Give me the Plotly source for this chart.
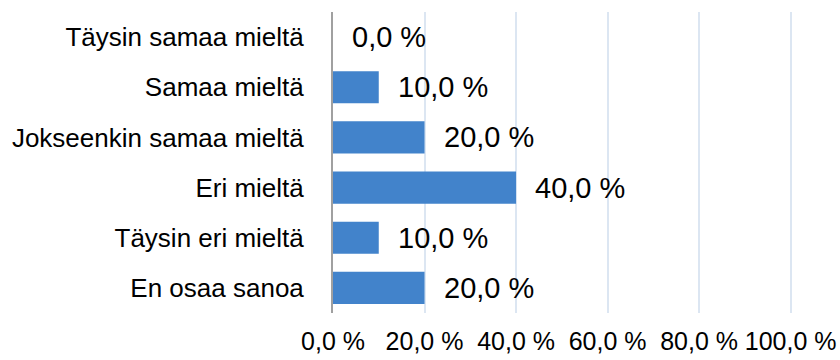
import plotly.graph_objects as go

categories = ["Täysin samaa mieltä", "Samaa mieltä", "Jokseenkin samaa mieltä",
              "Eri mieltä", "Täysin eri mieltä", "En osaa sanoa"]
values = [0.0, 10.0, 20.0, 40.0, 10.0, 20.0]
tick_vals = [0, 20, 40, 60, 80, 100]
tick_text = ["0,0 %", "20,0 %", "40,0 %", "60,0 %", "80,0 %", "100,0 %"]

font_family = "Liberation Sans, Arial, sans-serif"

fig = go.Figure()
fig.add_trace(go.Bar(
    y=categories, x=values, orientation="h",
    marker=dict(color="#4283cb", line=dict(width=0)),
    hoverinfo="skip",
))

for c, v in zip(categories, values):
    fig.add_annotation(
        x=v, y=c, xref="x", yref="y",
        text=f"{v:.1f}".replace(".", ",") + " %",
        showarrow=False, xanchor="left", xshift=17,
        font=dict(size=29, color="#000000", family=font_family),
    )

fig.update_layout(
    width=840, height=360,
    margin=dict(l=333, r=48, t=12, b=47),
    paper_bgcolor="white", plot_bgcolor="white",
    bargap=0.36,
    showlegend=False,
    font=dict(family=font_family, size=25, color="#000000"),
    xaxis=dict(
        range=[0, 100.3], tickvals=tick_vals, ticktext=tick_text,
        showgrid=True, gridcolor="#dce6f2", gridwidth=1.5,
        zeroline=False, showline=False, ticks="",
        ticklabelstandoff=11, automargin=False,
        tickfont=dict(size=25),
    ),
    yaxis=dict(
        categoryorder="array", categoryarray=categories[::-1],
        autorange=True,
        showline=True, linecolor="#a0a0a0", linewidth=2,
        showgrid=False, ticks="", ticklabelstandoff=22, automargin=False,
        tickfont=dict(size=26),
    ),
)

fig.write_html("out.html")
